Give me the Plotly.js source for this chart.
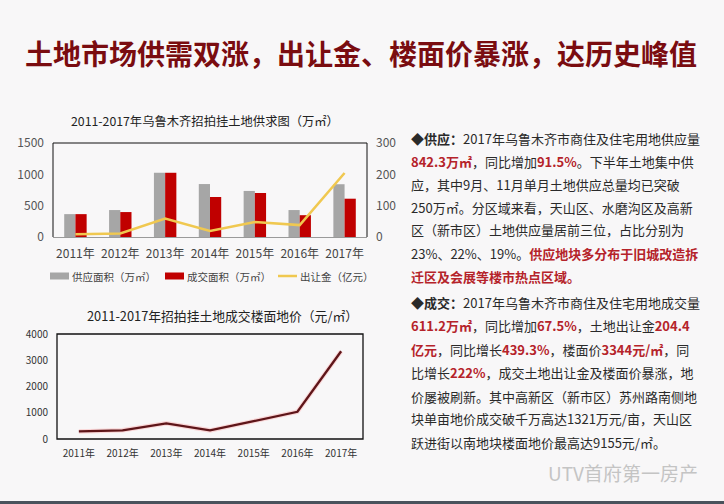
<!DOCTYPE html>
<html>
<head>
<meta charset="utf-8">
<script src="https://cdn.plot.ly/plotly-3.0.1.min.js"></script>
<style>
html,body{margin:0;padding:0;background:#f8f7f8;}
#chart{width:724px;height:504px;}
</style>
</head>
<body>
<div id="chart"></div>
<script>
// ---- data ----
const years = ['2011年','2012年','2013年','2014年','2015年','2016年','2017年'];
const supplyArea = [365, 430, 1025, 845, 735, 430, 842.3];   // 供应面积（万㎡）
const dealArea = [365, 398, 1025, 638, 702, 348, 611.2];      // 成交面积（万㎡）
const revenue = [9, 11, 59, 19, 48, 38, 204.4];               // 出让金（亿元）
const floorPrice = [290, 330, 595, 330, 680, 1038, 3344];     // 楼面地价（元/㎡）
const seriesNames = ['供应面积（万㎡）', '成交面积（万㎡）', '出让金（亿元）'];
const leftTicks = [0, 500, 1000, 1500];
const rightTicks = [0, 100, 200, 300];
const priceTicks = [0, 1000, 2000, 3000, 4000];

const W = 724, H = 504;
const px = v => v / W;
const py = v => 1 - v / H;
const CJK = '"Noto Sans CJK SC", "Noto Sans", sans-serif';
const RED = '#b5232a';
const C_SUP = '#a6a6a6', C_DEAL = '#c00000', C_REV = '#f0c850';

const traces = [
  {type:'bar', name:seriesNames[0], x:years, y:supplyArea, xaxis:'x', yaxis:'y', marker:{color:C_SUP}},
  {type:'bar', name:seriesNames[1], x:years, y:dealArea, xaxis:'x', yaxis:'y', marker:{color:C_DEAL}},
  {type:'scatter', mode:'lines', name:seriesNames[2], x:years, y:revenue, xaxis:'x', yaxis:'y2',
   line:{color:C_REV, width:2.5}},
  {type:'scatter', mode:'lines', x:years, y:floorPrice, xaxis:'x2', yaxis:'y3',
   line:{color:'rgba(255,130,130,0.28)', width:4.5}, hoverinfo:'skip'},
  {type:'scatter', mode:'lines', x:years, y:floorPrice, xaxis:'x2', yaxis:'y3',
   line:{color:'#5e1519', width:2.3}}
];

// right-hand text lines
const R = s => '<b><span style="color:'+RED+'">'+s+'</span></b>';
const textLines1 = [
  '<b>◆供应：</b>2017年乌鲁木齐市商住及住宅用地供应量',
  R('842.3万㎡')+'，同比增加'+R('91.5%')+'。下半年土地集中供',
  '应，其中9月、11月单月土地供应总量均已突破',
  '250万㎡。分区域来看，天山区、水磨沟区及高新',
  '区（新市区）土地供应量居前三位，占比分别为',
  '23%、22%、19%。'+R('供应地块多分布于旧城改造拆'),
  R('迁区及会展等楼市热点区域。')
];
const textLines2 = [
  '<b>◆成交：</b>2017年乌鲁木齐市商住及住宅用地成交量',
  R('611.2万㎡')+'，同比增加'+R('67.5%')+'，土地出让金'+R('204.4'),
  R('亿元')+'，同比增长'+R('439.3%')+'，楼面价'+R('3344元/㎡')+'，同',
  '比增长'+R('222%')+'，成交土地出让金及楼面价暴涨，地',
  '价屡被刷新。其中高新区（新市区）苏州路南侧地',
  '块单亩地价成交破千万高达1321万元/亩，天山区',
  '跃进街以南地块楼面地价最高达9155元/㎡。'
];
const y1 = [138, 161, 184, 207, 230, 253, 276];
const y2 = [302, 325, 349, 372, 396, 418, 442];

const annotations = [
  {text:'<b>土地市场供需双涨，出让金、楼面价暴涨，达历史峰值</b>', xref:'paper', yref:'paper',
   x:px(361), y:py(53), xanchor:'center', yanchor:'middle', showarrow:false,
   font:{family:CJK, size:28, color:'#7a0c10'}},
  {text:'2011-2017年乌鲁木齐招拍挂土地供求图（万㎡）', xref:'paper', yref:'paper',
   x:px(205), y:py(121), xanchor:'center', yanchor:'middle', showarrow:false,
   font:{family:CJK, size:12.3, color:'#222'}},
  {text:'2011-2017年招拍挂土地成交楼面地价（元/㎡）', xref:'paper', yref:'paper',
   x:px(222), y:py(315), xanchor:'center', yanchor:'middle', showarrow:false,
   font:{family:CJK, size:12.8, color:'#222'}},
  {text:'UTV首府第一房产', xref:'paper', yref:'paper',
   x:px(700), y:py(472), xanchor:'right', yanchor:'middle', showarrow:false,
   font:{family:CJK, size:19, color:'#c4c4c4'}}
];
textLines1.forEach((t,i)=>annotations.push({text:t, xref:'paper', yref:'paper', x:px(409), y:py(y1[i]),
  xanchor:'left', yanchor:'middle', showarrow:false, font:{family:CJK, size:13, color:'#2a2a2a'}}));
textLines2.forEach((t,i)=>annotations.push({text:t, xref:'paper', yref:'paper', x:px(409), y:py(y2[i]),
  xanchor:'left', yanchor:'middle', showarrow:false, font:{family:CJK, size:13, color:'#2a2a2a'}}));

// custom legend (symbol start x, text start x)
const legendPos = [[50, 70], [165, 185], [278, 298]];
const legendY = 276;
const shapes = [];
legendPos.forEach((p,i)=>{
  annotations.push({text:seriesNames[i], xref:'paper', yref:'paper', x:px(p[1]), y:py(legendY),
    xanchor:'left', yanchor:'middle', showarrow:false, font:{family:CJK, size:10.5, color:'#444'}});
});
shapes.push({type:'rect', xref:'paper', yref:'paper', x0:px(50), x1:px(69), y0:py(279.5), y1:py(272.5), fillcolor:C_SUP, line:{width:0}});
shapes.push({type:'rect', xref:'paper', yref:'paper', x0:px(165), x1:px(184), y0:py(279.5), y1:py(272.5), fillcolor:C_DEAL, line:{width:0}});
shapes.push({type:'line', xref:'paper', yref:'paper', x0:px(278), x1:px(297), y0:py(legendY), y1:py(legendY), line:{color:C_REV, width:2.5}});

const d1x = [px(53), px(367)], d1y = [py(237), py(143)];
const d2x = [px(57), px(363)], d2y = [py(439), py(334)];

shapes.push(
  {type:'line', xref:'paper', yref:'paper', x0:d1x[0], x1:d1x[1], y0:d1y[1], y1:d1y[1], line:{color:'#111', width:1}},
  {type:'line', xref:'paper', yref:'paper', x0:d1x[0], x1:d1x[0], y0:d1y[0], y1:d1y[1], line:{color:'#111', width:1}},
  {type:'line', xref:'paper', yref:'paper', x0:d1x[1], x1:d1x[1], y0:d1y[0], y1:d1y[1], line:{color:'#111', width:1}},
  {type:'rect', xref:'paper', yref:'paper', x0:d2x[0], x1:d2x[1], y0:d2y[0], y1:d2y[1], line:{color:'#111', width:1.3}},
  {type:'rect', xref:'paper', yref:'paper', x0:0, x1:1, y0:0, y1:py(501), fillcolor:'#4a525c', line:{width:0}}
);

const layout = {
  width:W, height:H, margin:{l:0,r:0,t:0,b:0},
  paper_bgcolor:'#f8f7f8', plot_bgcolor:'rgba(0,0,0,0)',
  font:{family:CJK, color:'#444'},
  barmode:'group', bargap:0.5, bargroupgap:0,
  showlegend:false,
  xaxis:{domain:d1x, anchor:'y', type:'category', showgrid:false, zeroline:false,
    showline:true, linecolor:'#9a9a9a', linewidth:1, ticks:'', tickfont:{size:12, color:'#444'}, ticklabelstandoff:6},
  yaxis:{domain:d1y, anchor:'x', range:[0,1500], tickvals:leftTicks, showgrid:false, zeroline:false,
    showline:false, ticks:'', tickfont:{size:12, color:'#555'}, ticklabelstandoff:8},
  yaxis2:{domain:d1y, anchor:'x', overlaying:'y', side:'right', range:[0,300], tickvals:rightTicks,
    showgrid:false, zeroline:false, showline:false, ticks:'', tickfont:{size:12, color:'#555'}, ticklabelstandoff:8},
  xaxis2:{domain:d2x, anchor:'y3', type:'category', range:[-0.5, 6.5], showgrid:false, zeroline:false,
    showline:false, ticks:'', tickfont:{size:10, color:'#333'}, ticklabelstandoff:7},
  yaxis3:{domain:d2y, anchor:'x2', range:[0,4000], tickvals:priceTicks, showgrid:false, zeroline:false,
    showline:false, ticks:'', tickfont:{size:10, color:'#333'}, ticklabelstandoff:8},
  shapes:shapes,
  annotations:annotations
};

Plotly.newPlot('chart', traces, layout, {staticPlot:true, displayModeBar:false});
</script>
</body>
</html>
